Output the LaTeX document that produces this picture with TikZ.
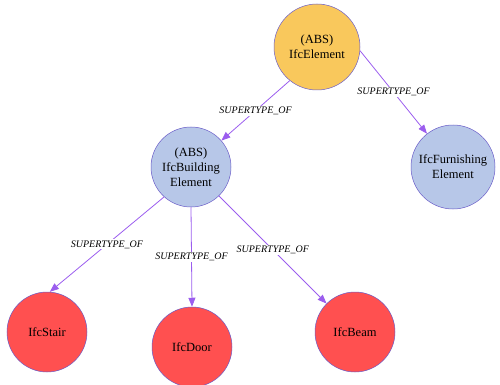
\documentclass[tikz,border=0pt]{standalone}
\usepackage{fontspec}
\setmainfont{Liberation Serif}
\usetikzlibrary{arrows.meta}
\definecolor{nyellow}{HTML}{F9C85C}
\definecolor{nblue}{HTML}{B7C7E8}
\definecolor{nred}{HTML}{FF5050}
\definecolor{edgec}{HTML}{9B5DEE}
\definecolor{bordc}{HTML}{6A5CC8}
\begin{document}
\begin{tikzpicture}[x=1pt,y=-1pt,
  ent/.style={circle, draw=bordc, line width=0.5pt, inner sep=0pt, align=center,
    font=\fontsize{12.5}{15}\selectfont},
  absnode/.style={ent, fill=nyellow, minimum size=86pt},
  midnode/.style={ent, fill=nblue, minimum size=#1},
  leafnode/.style={ent, fill=nred, minimum size=80pt},
  rel/.style={draw=edgec, line width=0.8pt, -{Triangle[length=9pt,width=7pt]}},
  lbl/.style={fill=white, inner sep=1pt, font=\fontsize{10}{12}\selectfont\itshape}]
\useasboundingbox (0,0) rectangle (500,385);

\node[absnode] (elem) at (317,47) {(ABS)\\IfcElement};
\node[midnode=80pt] (bld) at (191,167) {(ABS)\\IfcBuilding\\Element};
\node[midnode=84pt] (furn) at (453,167) {IfcFurnishing\\Element};
\node[leafnode] (stair) at (47,332) {IfcStair};
\node[leafnode] (door) at (192,347) {IfcDoor};
\node[leafnode] (beam) at (355,332) {IfcBeam};

\draw[rel] (elem.231) -- node[lbl] (l1) {SUPERTYPE\_OF} (bld.41);
\draw[rel] (elem.-5) -- node[lbl] (l2) {SUPERTYPE\_OF} (furn.128);
\draw[rel] (bld.228) -- node[lbl] (l3) {SUPERTYPE\_OF} (stair.86);
\draw[rel] (bld.south) -- node[lbl] (l4) {SUPERTYPE\_OF} (door.north);
\draw[rel] (bld.314) -- node[lbl] (l5) {SUPERTYPE\_OF} (beam.135);
\end{tikzpicture}
\end{document}
